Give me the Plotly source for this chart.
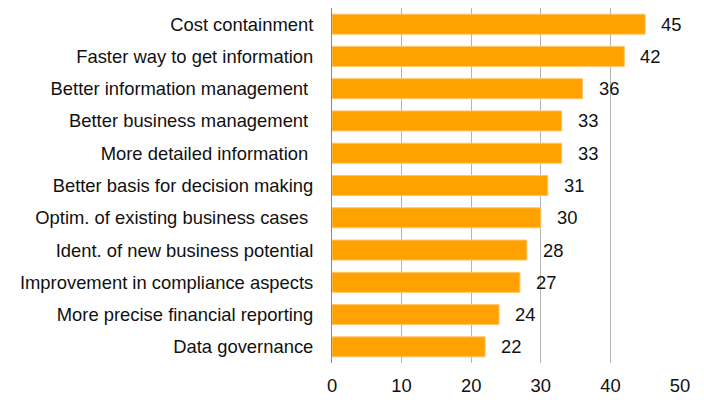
import plotly.graph_objects as go

categories = [
    "Cost containment",
    "Faster way to get information",
    "Better information management\u00a0",
    "Better business management\u00a0",
    "More detailed information\u00a0",
    "Better basis for decision making",
    "Optim. of existing business cases\u00a0",
    "Ident. of new business potential",
    "Improvement in compliance aspects",
    "More precise financial reporting",
    "Data governance",
]
values = [45, 42, 36, 33, 33, 31, 30, 28, 27, 24, 22]
x_ticks = [0, 10, 20, 30, 40, 50]

font = dict(family="Liberation Sans, Arial, sans-serif", size=18.4, color="#111111")

fig = go.Figure()
fig.add_trace(go.Bar(
    x=values,
    y=categories,
    orientation="h",
    marker=dict(color="#FFA200", line=dict(color="#FFC56A", width=1)),
    hoverinfo="x+y",
))

for c, v in zip(categories, values):
    fig.add_annotation(x=v, y=c, text=str(v), xanchor="left", yanchor="middle",
                       xshift=14, showarrow=False, font=font)

# page body has an 8px margin: plot area positioned to account for it
fig.update_layout(
    width=688, height=392,
    margin=dict(l=324, r=16, t=0, b=37),
    paper_bgcolor="white", plot_bgcolor="white",
    bargap=0.38,
    showlegend=False,
    font=font,
    xaxis=dict(range=[0, 50], tickvals=x_ticks, showgrid=True, gridcolor="#B5B5B5",
               gridwidth=1, zeroline=False, showline=False, ticks="",
               tickfont=font, ticklabelstandoff=10, automargin=False),
    yaxis=dict(autorange="reversed", showline=True, linecolor="#888888", linewidth=1,
               ticks="", tickfont=font, ticklabelstandoff=14, automargin=False),
)

fig.write_html("out.html")
